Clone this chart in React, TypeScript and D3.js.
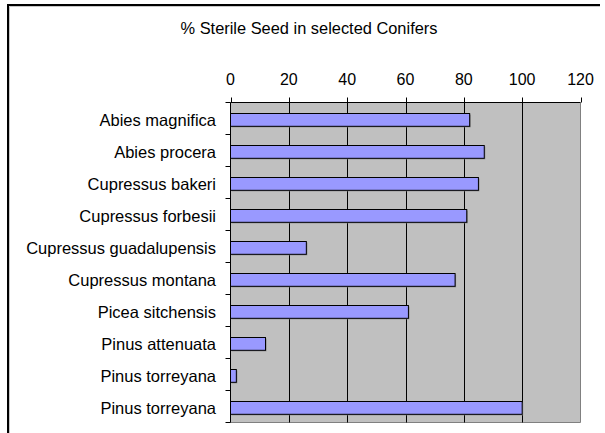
import React from "react";
import * as d3 from "d3";

const categories = [
  "Abies magnifica",
  "Abies procera",
  "Cupressus bakeri",
  "Cupressus forbesii",
  "Cupressus guadalupensis",
  "Cupressus montana",
  "Picea sitchensis",
  "Pinus attenuata",
  "Pinus torreyana",
  "Pinus torreyana ",
];
const values = [82, 87, 85, 81, 26, 77, 61, 12, 2, 100];
const xTicks = [0, 20, 40, 60, 80, 100, 120];
const title = "% Sterile Seed in selected Conifers";

const W = 605;
const H = 433;
const plot = { left: 230.5, right: 580.5, top: 102.5, bottom: 422.5 };
const FONT = "'Liberation Sans', Arial, sans-serif";

export default function App() {
  const x = d3.scaleLinear().domain([0, 120]).range([plot.left, plot.right]);
  const y = d3
    .scaleBand<string>()
    .domain(categories)
    .range([plot.top, plot.bottom])
    .paddingInner(0.6)
    .paddingOuter(0.3);
  const step = y.step();
  const bw = y.bandwidth();

  return (
    <svg
      width={W}
      height={H}
      style={{ position: "absolute", left: 0, top: 0, background: "#fff" }}
      fontFamily={FONT}
    >
      {/* chart frame */}
      <line x1={8} y1={5} x2={600} y2={5} stroke="#000" strokeWidth={2} />
      <line x1={8} y1={4} x2={8} y2={H} stroke="#000" strokeWidth={2} />
      <line x1={9.5} y1={6.5} x2={600} y2={6.5} stroke="#c8c8c8" strokeWidth={1} />
      <line x1={9.5} y1={6.5} x2={9.5} y2={H} stroke="#c8c8c8" strokeWidth={1} />

      <text x={309} y={34} textAnchor="middle" fontSize={16.4} fill="#000">
        {title}
      </text>

      {/* plot background */}
      <rect
        x={plot.left}
        y={plot.top}
        width={plot.right - plot.left}
        height={plot.bottom - plot.top}
        fill="#c0c0c0"
      />
      {/* right & bottom gray borders */}
      <line x1={plot.right} y1={plot.top} x2={plot.right} y2={plot.bottom} stroke="#808080" strokeWidth={1} />
      <line x1={plot.left} y1={plot.bottom} x2={plot.right} y2={plot.bottom} stroke="#808080" strokeWidth={1} />

      {/* gridlines */}
      {xTicks
        .filter((t) => t > 0 && t < 120)
        .map((t) => (
          <line
            key={"g" + t}
            x1={Math.round(x(t)) + 0.5}
            x2={Math.round(x(t)) + 0.5}
            y1={plot.top}
            y2={plot.bottom}
            stroke="#000"
            strokeWidth={1}
          />
        ))}

      {/* bars */}
      {categories.map((c, i) => {
        const by = Math.round(y(c)!) + 1.5;
        const w = x(values[i]) - x(0);
        return (
          <g key={"b" + i}>
            <rect x={x(0) + 1} y={by + 1} width={w} height={bw} fill="#808080" />
            <rect x={x(0)} y={by} width={w} height={bw} fill="#9999ff" stroke="#000" strokeWidth={1} />
          </g>
        );
      })}

      {/* top axis */}
      <line x1={plot.left} y1={plot.top} x2={plot.right} y2={plot.top} stroke="#000" strokeWidth={1} />
      {xTicks.map((t) => (
        <g key={"t" + t}>
          <line
            x1={Math.round(x(t)) + 0.5}
            x2={Math.round(x(t)) + 0.5}
            y1={plot.top - 5}
            y2={plot.top}
            stroke="#000"
            strokeWidth={1}
          />
          <text x={x(t)} y={85} textAnchor="middle" fontSize={16} fill="#000">
            {t}
          </text>
        </g>
      ))}

      {/* left axis */}
      <line x1={plot.left} y1={plot.top} x2={plot.left} y2={plot.bottom} stroke="#000" strokeWidth={1} />
      {d3.range(categories.length + 1).map((k) => (
        <line
          key={"lt" + k}
          x1={plot.left - 5}
          x2={plot.left}
          y1={plot.top + k * step}
          y2={plot.top + k * step}
          stroke="#000"
          strokeWidth={1}
        />
      ))}
      {categories.map((c, i) => (
        <text
          key={"l" + i}
          x={216}
          y={y(c)! + bw / 2 + 7.5}
          textAnchor="end"
          fontSize={16.5}
          fill="#000"
        >
          {c.trim()}
        </text>
      ))}
    </svg>
  );
}
